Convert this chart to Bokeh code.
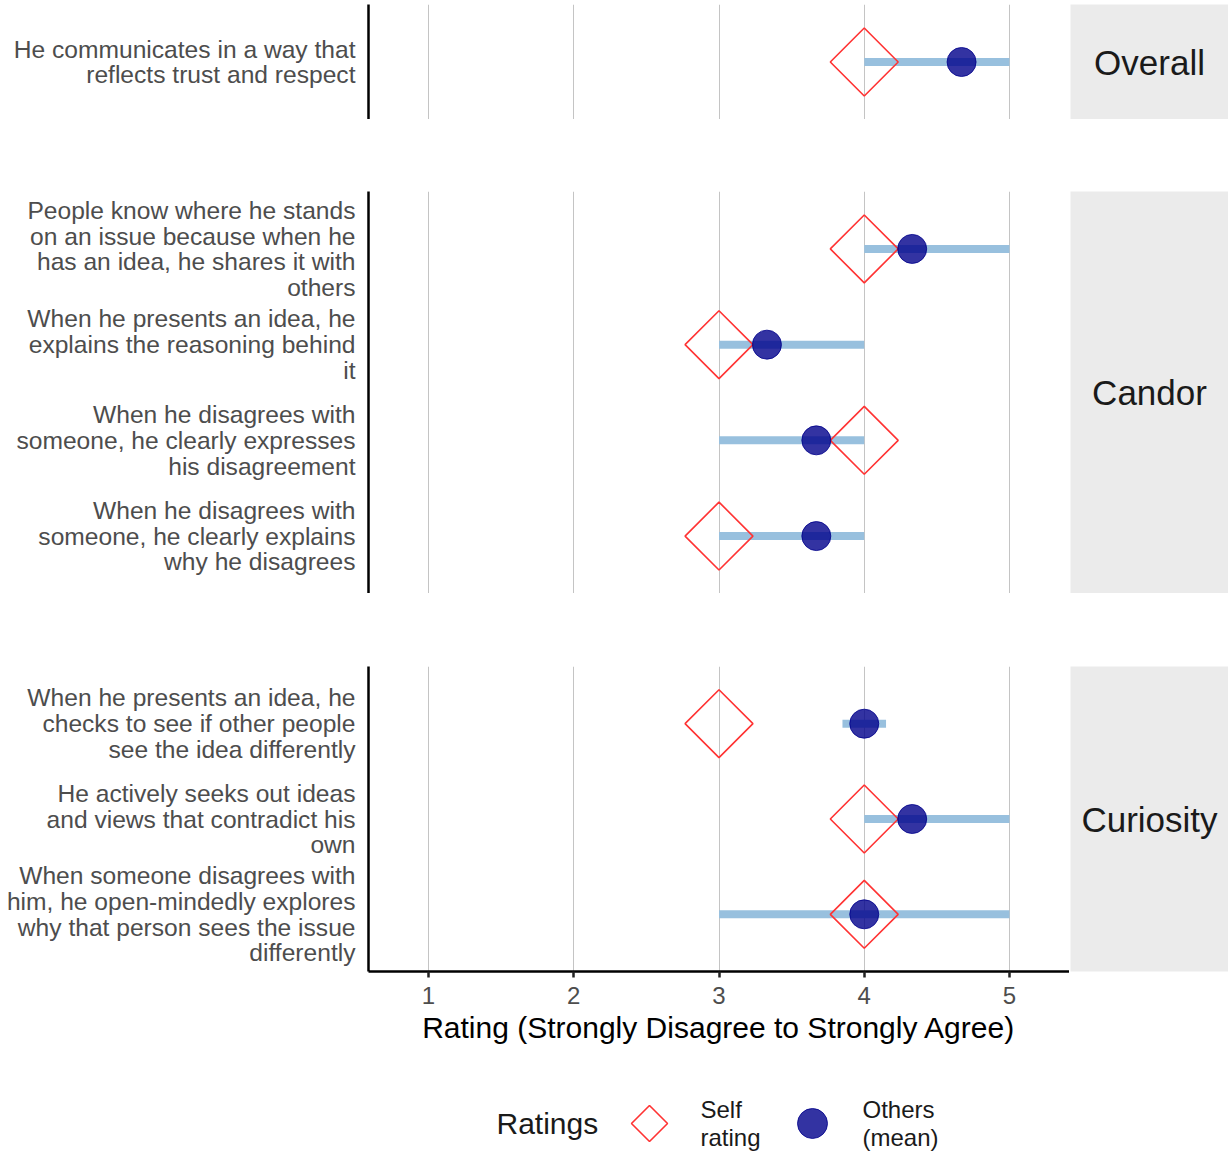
import math
from bokeh.plotting import figure
from bokeh.models import Range1d, FixedTicker, Spacer, ColumnDataSource
from bokeh.layouts import column, row
from bokeh.embed import file_html
from bokeh.resources import INLINE
from bokeh.core.properties import value

# ---------------- data ----------------
facets = ["Overall", "Candor", "Curiosity"]
item_facet = ["Overall", "Candor", "Candor", "Candor", "Candor",
              "Curiosity", "Curiosity", "Curiosity"]
item_labels = [
    "He communicates in a way that\nreflects trust and respect",
    "People know where he stands\non an issue because when he\nhas an idea, he shares it with\nothers",
    "When he presents an idea, he\nexplains the reasoning behind\nit",
    "When he disagrees with\nsomeone, he clearly expresses\nhis disagreement",
    "When he disagrees with\nsomeone, he clearly explains\nwhy he disagrees",
    "When he presents an idea, he\nchecks to see if other people\nsee the idea differently",
    "He actively seeks out ideas\nand views that contradict his\nown",
    "When someone disagrees with\nhim, he open-mindedly explores\nwhy that person sees the issue\ndifferently",
]
self_rating = [4, 4, 3, 4, 3, 3, 4, 4]
others_mean = [4.67, 4.33, 3.33, 3.67, 3.67, 4.0, 4.33, 4.0]
others_min = [4, 4, 3, 3, 3, 3.85, 4, 3]
others_max = [5, 5, 4, 4, 4, 4.15, 5, 5]
x_ticks = [1, 2, 3, 4, 5]
x_title = "Rating (Strongly Disagree to Strongly Agree)"
legend_title = "Ratings"
legend_labels = ["Self\nrating", "Others\n(mean)"]

# ---------------- style ----------------
FONT = value("Liberation Sans")
BAR_COLOR = "#98C0DE"
SELF_COLOR = "#FF3333"
MEAN_COLOR = "#00008B"
GRID_COLOR = "#C4C4C4"
STRIP_FILL = "#EBEBEB"
LEFT_BORDER = 368
FRAME_W = 701
STRIP_W = 159
UNIT_H = 95.7
BOTTOM_AXIS_H = 74


def make_panel(fname, bottom_axis):
    idx = [i for i, f in enumerate(item_facet) if f == fname]
    n = len(idx)
    ys = [n - k for k in range(n)]
    src = ColumnDataSource(dict(
        y=ys,
        s=[self_rating[i] for i in idx],
        m=[others_mean[i] for i in idx],
        lo=[others_min[i] for i in idx],
        hi=[others_max[i] for i in idx],
    ))
    frame_h = int(round(UNIT_H * (n + 0.2)))
    bb = BOTTOM_AXIS_H if bottom_axis else 0
    p = figure(width=LEFT_BORDER + FRAME_W, height=frame_h + bb,
               x_range=Range1d(0.587, 5.413), y_range=Range1d(0.4, n + 0.6),
               output_backend="svg", toolbar_location=None,
               x_axis_location="below" if bottom_axis else None,
               min_border_left=LEFT_BORDER, min_border_right=0,
               min_border_top=0, min_border_bottom=bb)
    p.outline_line_color = None
    p.background_fill_color = "white"
    p.border_fill_color = "white"

    p.xgrid.ticker = FixedTicker(ticks=x_ticks)
    p.xgrid.grid_line_color = GRID_COLOR
    p.xgrid.grid_line_width = 1
    p.ygrid.visible = False

    ya = p.yaxis[0]
    ya.ticker = FixedTicker(ticks=ys)
    ya.major_label_overrides = {y: item_labels[i] for y, i in zip(ys, idx)}
    ya.major_label_text_font = "Liberation Sans"
    ya.major_label_text_font_size = "24.6px"
    ya.major_label_text_color = "#4D4D4D"
    ya.major_label_text_line_height = 0.955
    ya.major_label_standoff = 7
    ya.major_tick_line_color = None
    ya.minor_tick_line_color = None
    ya.axis_line_color = "black"
    ya.axis_line_width = 2.5

    if bottom_axis:
        xa = p.xaxis[0]
        xa.ticker = FixedTicker(ticks=x_ticks)
        xa.major_label_text_font = "Liberation Sans"
        xa.major_label_text_font_size = "24px"
        xa.major_label_text_color = "#4D4D4D"
        xa.major_label_standoff = 9
        xa.major_tick_in = 0
        xa.major_tick_out = 6
        xa.major_tick_line_width = 2.5
        xa.major_tick_line_color = "#222222"
        xa.minor_tick_line_color = None
        xa.axis_line_color = "black"
        xa.axis_line_width = 2.5
        xa.axis_label = x_title
        xa.axis_label_text_font = "Liberation Sans"
        xa.axis_label_text_font_size = "30px"
        xa.axis_label_text_font_style = "normal"
        xa.axis_label_text_color = "black"
        xa.axis_label_standoff = 4

    p.segment(x0="lo", y0="y", x1="hi", y1="y", source=src,
              line_color=BAR_COLOR, line_width=8, line_cap="butt")
    p.scatter(x="s", y="y", source=src, marker="square", angle=math.pi / 4,
              size=48, fill_color=None, line_color=SELF_COLOR, line_width=1.6)
    p.scatter(x="m", y="y", source=src, marker="circle", size=29,
              fill_color=MEAN_COLOR, fill_alpha=0.8,
              line_color=MEAN_COLOR, line_alpha=0.8, line_width=1)

    # facet strip; same total height and bottom border as the panel so that
    # the row's border alignment keeps its frame equal to the panel frame
    strip = figure(width=STRIP_W, height=frame_h + bb,
                   x_range=Range1d(0, 1), y_range=Range1d(0, 1),
                   output_backend="svg", toolbar_location=None,
                   x_axis_location=None, y_axis_location=None,
                   min_border=0, min_border_left=1, min_border_bottom=bb)
    strip.outline_line_color = None
    strip.background_fill_color = STRIP_FILL
    strip.border_fill_color = "white"
    strip.grid.visible = False
    strip.text(x=[0.5], y=[0.5], text=[fname], text_align="center",
               text_baseline="middle", text_font=FONT,
               text_font_size="35px", text_color="#1A1A1A")
    return row(p, strip)


rows = [Spacer(height=4)]
gaps = [72, 73]
for k, f in enumerate(facets):
    rows.append(make_panel(f, bottom_axis=(k == len(facets) - 1)))
    if k < len(gaps):
        rows.append(Spacer(height=gaps[k]))

# ---------------- legend ----------------
LW, LH = LEFT_BORDER + FRAME_W + STRIP_W, 108
lg = figure(width=LW, height=LH, x_range=Range1d(0, LW), y_range=Range1d(0, LH),
            output_backend="svg", toolbar_location=None,
            x_axis_location=None, y_axis_location=None, min_border=0)
lg.outline_line_color = None
lg.grid.visible = False
ly = 31
lg.text(x=[496], y=[ly], text=[legend_title], text_align="left",
        text_baseline="middle", text_font=FONT, text_font_size="30px",
        text_color="#1A1A1A")
lg.scatter(x=[649], y=[ly], marker="square", angle=math.pi / 4, size=25.5,
           fill_color=None, line_color=SELF_COLOR, line_width=1.6)
lg.scatter(x=[812], y=[ly], marker="circle", size=30, fill_color=MEAN_COLOR,
           fill_alpha=0.8, line_color=MEAN_COLOR, line_alpha=0.8)
lg.text(x=[700, 862], y=[ly, ly], text=legend_labels, text_align="left",
        text_baseline="middle", text_font=FONT, text_font_size="24px",
        text_color="#1A1A1A", text_line_height=1.05)
rows.append(lg)

layout = column(*rows)
open("out.html", "w").write(file_html(layout, INLINE))
